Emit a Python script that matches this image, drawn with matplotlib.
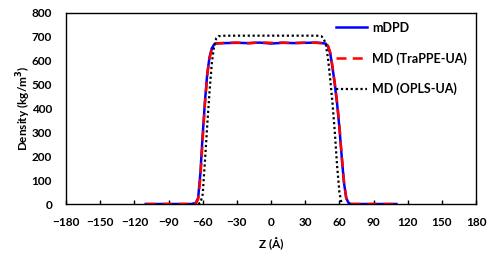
import matplotlib
matplotlib.use('Agg')
import matplotlib.pyplot as plt
import numpy as np

# mDPD density profile
z_dpd = [-110, -100, -90, -80, -70, -66, -64, -62, -60, -58, -56, -54, -52, -50,
         -48, -40, -30, -20, -10, 0, 10, 20, 30, 40, 48, 50, 52, 54, 56, 58,
         60, 62, 64, 66, 68, 70, 80, 90, 100, 110]
rho_dpd = [0, 0, 0, 0, 0, 5, 25, 130, 290, 430, 545, 615, 652, 668,
           673, 674, 675, 674, 676, 672, 675, 674, 675, 676, 672, 660, 630, 570, 500, 420,
           320, 200, 90, 25, 5, 0, 0, 0, 0, 0]

# MD (TraPPE-UA)
z_trappe = [-110, -100, -90, -80, -70, -66, -64, -62, -60, -58, -56, -54, -52, -50,
            -48, -40, -30, -20, -10, 0, 10, 20, 30, 40, 48, 50, 52, 54, 56, 58,
            60, 62, 64, 66, 68, 70, 80, 90, 100, 110]
rho_trappe = [0, 0, 0, 0, 0, 3, 20, 110, 270, 420, 540, 610, 650, 667,
              672, 675, 676, 673, 677, 675, 676, 674, 676, 675, 673, 663, 635, 575, 505, 425,
              330, 205, 95, 25, 4, 0, 0, 0, 0, 0]

# MD (OPLS-UA)
z_opls = [-64, -62, -60, -58, -56, -54, -52, -50, -48, -46, -40, -30, -20, -10, 0,
          10, 20, 30, 40, 44, 46, 48, 50, 52, 54, 56, 58, 60, 62]
rho_opls = [0, 5, 40, 180, 330, 470, 590, 660, 695, 703, 705, 705, 705, 705, 705,
            705, 705, 705, 705, 703, 695, 670, 610, 520, 420, 300, 160, 50, 0]

x_ticks = np.arange(-180, 181, 30)
y_ticks = np.arange(0, 801, 100)

plt.rcParams['font.family'] = ['Lato', 'DejaVu Sans']
plt.rcParams['font.weight'] = 'bold'

fig = plt.figure(figsize=(4.98, 2.63), dpi=100)
ax = fig.add_axes([0.1325, 0.2243, 0.8235, 0.7263])

ax.plot(z_dpd, rho_dpd, color='#0000ff', linestyle='-', linewidth=1.8, label='mDPD')
ax.plot(z_trappe, rho_trappe, color='#ff0000', linestyle=(0, (4, 2.5)), linewidth=1.8,
        label='MD (TraPPE-UA)')
ax.plot(z_opls, rho_opls, color='black', linestyle=(0, (1, 1.2)), linewidth=1.6,
        label='MD (OPLS-UA)')

ax.set_xlim(-180, 180)
ax.set_ylim(0, 800)
ax.set_xticks(x_ticks)
ax.set_yticks(y_ticks)
ax.tick_params(axis='x', direction='in', length=3, width=1, labelsize=8.5, pad=9)
ax.tick_params(axis='y', length=0, labelsize=8.5, pad=10)
for s in ax.spines.values():
    s.set_linewidth(1)
    s.set_color('black')

ax.set_xlabel('Z (\u00c5)', fontsize=8.5, fontweight='bold', labelpad=7)
ax.set_ylabel('Density (kg/m$^3$)', fontsize=8.5, fontweight='bold', labelpad=-1)

ax.legend(loc='upper right', frameon=False, fontsize=9, handlelength=2.5,
          labelspacing=1.45, handletextpad=0.4, borderaxespad=0.3)

fig.savefig('out.png', dpi=100)
